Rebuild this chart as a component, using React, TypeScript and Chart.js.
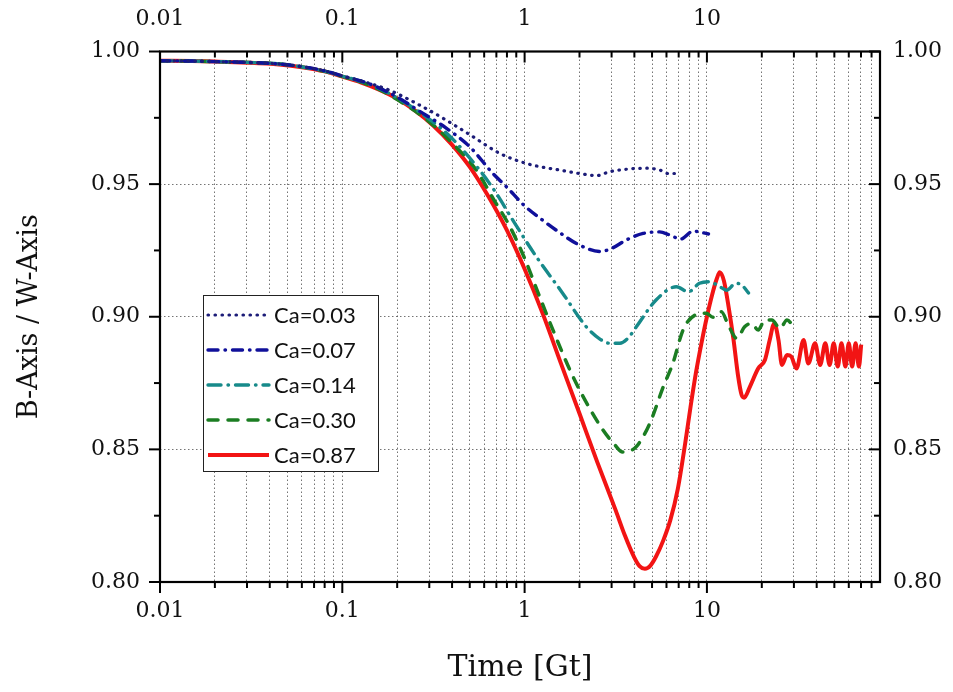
import React, { useEffect, useRef } from "react";
import { Chart, registerables } from "chart.js";

Chart.register(...registerables);

// ---------- data ----------
const seriesLabels = ["Ca=0.03", "Ca=0.07", "Ca=0.14", "Ca=0.30", "Ca=0.87"];

const t003 = [0.01, 0.015, 0.02, 0.03, 0.045, 0.06, 0.08, 0.1, 0.141, 0.18, 0.254, 0.37, 0.52, 0.73, 1.02, 1.21, 1.56, 2.0, 2.48, 2.93, 3.6, 4.66, 5.52, 6.13, 6.7];
const v003 = [0.9965, 0.9964, 0.9962, 0.9959, 0.9953, 0.9943, 0.9927, 0.9908, 0.988, 0.9855, 0.9805, 0.9742, 0.9679, 0.9616, 0.9578, 0.9566, 0.9553, 0.954, 0.9532, 0.9547, 0.9556, 0.956, 0.9553, 0.954, 0.954];

const t007 = [0.01, 0.015, 0.02, 0.03, 0.045, 0.06, 0.08, 0.1, 0.14, 0.2, 0.265, 0.37, 0.5, 0.67, 0.8, 1.0, 1.25, 1.5, 2.0, 2.6, 3.05, 3.6, 4.47, 5.5, 6.26, 7.2, 8.4, 9.3, 10.2];
const v007 = [0.9965, 0.9964, 0.9962, 0.9959, 0.9953, 0.9943, 0.9927, 0.9908, 0.9879, 0.9828, 0.9775, 0.9712, 0.9641, 0.954, 0.9488, 0.9418, 0.9365, 0.9325, 0.927, 0.9246, 0.926, 0.9289, 0.9314, 0.932, 0.9308, 0.9293, 0.9323, 0.9318, 0.9312];

const t014 = [0.01, 0.015, 0.02, 0.03, 0.045, 0.06, 0.08, 0.1, 0.14, 0.2, 0.3, 0.4, 0.566, 0.7, 0.86, 1.16, 1.62, 2.18, 2.6, 2.93, 3.33, 3.7, 4.1, 5.26, 6.8, 7.9, 9.1, 10.3, 11.8, 12.8, 14.4, 15.5, 16.9];
const v014 = [0.9965, 0.9964, 0.9962, 0.9959, 0.9953, 0.9942, 0.9926, 0.9907, 0.9877, 0.9825, 0.9745, 0.9672, 0.9553, 0.9465, 0.9365, 0.9226, 0.9088, 0.8962, 0.8915, 0.89, 0.89, 0.892, 0.8962, 0.9063, 0.9113, 0.9094, 0.9126, 0.9132, 0.9113, 0.91, 0.9126, 0.912, 0.909];

const t030 = [0.01, 0.015, 0.02, 0.03, 0.045, 0.06, 0.08, 0.1, 0.14, 0.2, 0.3, 0.4, 0.543, 0.68, 0.83, 1.0, 1.21, 1.45, 1.77, 2.09, 2.69, 3.1, 3.45, 3.8, 4.1, 4.86, 5.76, 6.5, 7.4, 8.6, 9.9, 10.8, 12.0, 13.1, 14.6, 16.1, 17.6, 19.1, 20.8, 22.7, 25.2, 27.5, 30.5];
const v030 = [0.9965, 0.9964, 0.9962, 0.9959, 0.9953, 0.9942, 0.9925, 0.9906, 0.9874, 0.9819, 0.9735, 0.9655, 0.9553, 0.944, 0.934, 0.922, 0.9075, 0.894, 0.88, 0.87, 0.8573, 0.852, 0.849, 0.8495, 0.851, 0.8598, 0.8736, 0.8824, 0.895, 0.9006, 0.9013, 0.8998, 0.9019, 0.8969, 0.8918, 0.8962, 0.8975, 0.895, 0.8988, 0.8988, 0.8956, 0.8988, 0.895];

const t087 = [0.01, 0.015, 0.02, 0.03, 0.045, 0.06, 0.08, 0.1, 0.126, 0.158, 0.2, 0.251, 0.316, 0.398, 0.5, 0.631, 0.794, 1.0, 1.26, 1.58, 2.0, 2.51, 3.16, 3.55, 3.98, 4.27, 4.57, 4.9, 5.25, 5.75, 6.31, 6.92, 7.59, 8.13, 8.71, 9.33, 10.0, 10.7, 11.35, 11.75, 12.4, 13.2, 14.0, 14.8, 15.5, 16.0, 17.2, 19.1, 20.8, 22.1, 23.4, 24.7, 25.8, 27.5, 29.0, 31.0, 33.9, 36.0, 39.2, 41.8, 44.6, 47.1, 49.6, 52.2, 54.7, 57.5, 60.0, 62.6, 65.4, 68.2, 70.2];
const v087 = [0.9965, 0.9964, 0.9962, 0.9958, 0.9951, 0.9941, 0.9925, 0.9905, 0.9884, 0.9857, 0.9822, 0.9777, 0.972, 0.965, 0.9565, 0.9455, 0.933, 0.918, 0.901, 0.8825, 0.8635, 0.845, 0.827, 0.8175, 0.8095, 0.806, 0.805, 0.8062, 0.8095, 0.8155, 0.8235, 0.835, 0.852, 0.866, 0.879, 0.89, 0.9, 0.9085, 0.9145, 0.9168, 0.9135, 0.903, 0.8912, 0.878, 0.8705, 0.8695, 0.8736, 0.8805, 0.8837, 0.8912, 0.8975, 0.8912, 0.8818, 0.8856, 0.885, 0.8805, 0.8912, 0.8824, 0.89, 0.8818, 0.89, 0.8818, 0.89, 0.8812, 0.89, 0.8812, 0.89, 0.8812, 0.89, 0.8812, 0.8895];

const xTickValues = [
  0.01, 0.02, 0.03, 0.04, 0.05, 0.06, 0.07, 0.08, 0.09,
  0.1, 0.2, 0.3, 0.4, 0.5, 0.6, 0.7, 0.8, 0.9,
  1, 2, 3, 4, 5, 6, 7, 8, 9,
  10, 20, 30, 40, 50, 60, 70, 80,
];
const xMajorLabels = ["0.01", "0.1", "1", "10"];
const yTickValues = [0.8, 0.825, 0.85, 0.875, 0.9, 0.925, 0.95, 0.975, 1.0];
const yMajorLabels = ["0.80", "0.85", "0.90", "0.95", "1.00"];

const X_MIN = 0.01;
const X_MAX = 89;
const Y_MIN = 0.8;
const Y_MAX = 1.0;

// ---------- styles ----------
const seriesStyles = [
  { color: "#1c1c78", dash: [0.5, 6.5], width: 3.2, cap: "round" },
  { color: "#10109a", dash: [10, 7, 0.5, 7], width: 3.4, cap: "round" },
  { color: "#178a8a", dash: [13, 7, 0.5, 7], width: 3.4, cap: "round" },
  { color: "#1b7d22", dash: [10, 10], width: 3.5, cap: "round" },
  { color: "#f21414", dash: [], width: 4, cap: "butt" },
];

const seriesT = [t003, t007, t014, t030, t087];
const seriesV = [v003, v007, v014, v030, v087];

const SERIF = "'DejaVu Serif', serif";

function xLabelFor(value: number): string {
  const l = xMajorLabels.find((s) => Math.abs(parseFloat(s) - value) < 1e-9);
  return l || "";
}
function yLabelFor(value: number): string {
  const l = yMajorLabels.find((s) => Math.abs(parseFloat(s) - value) < 1e-9);
  return l || "";
}

const framePlugin = {
  id: "frameTicksLegend",
  afterDraw(chart: any) {
    const { ctx, chartArea: a, scales } = chart;
    ctx.save();
    ctx.setLineDash([]);
    ctx.strokeStyle = "#000";
    ctx.lineWidth = 2.2;
    ctx.strokeRect(a.left, a.top, a.right - a.left, a.bottom - a.top);

    ctx.lineWidth = 2;
    const MAJ = 11;
    const MIN = 6;
    for (const tk of scales.x.ticks) {
      const p = scales.x.getPixelForValue(tk.value);
      const len = xLabelFor(tk.value) ? MAJ : MIN;
      ctx.beginPath();
      ctx.moveTo(p, a.bottom);
      ctx.lineTo(p, a.bottom + len);
      ctx.stroke();
    }
    for (const tk of scales.x2.ticks) {
      const p = scales.x2.getPixelForValue(tk.value);
      const len = xLabelFor(tk.value) ? MAJ : MIN;
      ctx.beginPath();
      ctx.moveTo(p, a.top);
      ctx.lineTo(p, a.top + len);
      ctx.stroke();
    }
    for (const tk of scales.y.ticks) {
      const p = scales.y.getPixelForValue(tk.value);
      const len = yLabelFor(tk.value) ? MAJ : MIN;
      ctx.beginPath();
      ctx.moveTo(a.left - len, p);
      ctx.lineTo(a.left, p);
      ctx.stroke();
    }
    for (const tk of scales.y2.ticks) {
      const p = scales.y2.getPixelForValue(tk.value);
      const len = yLabelFor(tk.value) ? MAJ : MIN;
      ctx.beginPath();
      ctx.moveTo(a.right - len, p);
      ctx.lineTo(a.right, p);
      ctx.stroke();
    }

    // legend box
    const bx = 203, by = 295, bw = 175, bh = 176;
    ctx.fillStyle = "#fff";
    ctx.fillRect(bx, by, bw, bh);
    ctx.strokeStyle = "#222";
    ctx.lineWidth = 1;
    ctx.strokeRect(bx + 0.5, by + 0.5, bw, bh);
    const rowH = 35;
    chart.data.datasets.forEach((ds: any, i: number) => {
      const y = by + 20 + i * rowH;
      ctx.save();
      ctx.strokeStyle = ds.borderColor;
      ctx.lineWidth = ds.borderWidth;
      ctx.lineCap = ds.borderCapStyle;
      ctx.setLineDash(ds.borderDash || []);
      ctx.beginPath();
      ctx.moveTo(bx + 5, y);
      ctx.lineTo(bx + 66, y);
      ctx.stroke();
      ctx.restore();
      ctx.fillStyle = "#111";
      ctx.font = "22px Lato, 'Open Sans', sans-serif";
      ctx.textBaseline = "middle";
      ctx.textAlign = "left";
      ctx.fillText(ds.label, bx + 71, y + 1);
    });
    ctx.restore();
  },
};

function makeXScale(position: "bottom" | "top", showGrid: boolean, padding: number, title: any) {
  return {
    type: "logarithmic",
    position,
    min: X_MIN,
    max: X_MAX,
    afterBuildTicks: (scale: any) => {
      scale.ticks = xTickValues.map((v) => ({ value: v, major: !!xLabelFor(v) }));
    },
    afterFit: (scale: any) => {
      scale.height = position === "bottom" ? 110 : 51.5;
    },
    ticks: {
      autoSkip: false,
      maxRotation: 0,
      minRotation: 0,
      padding,
      color: "#111",
      font: { family: SERIF, size: 22 },
      callback: (value: any) => xLabelFor(Number(value)),
    },
    grid: {
      display: true,
      drawOnChartArea: showGrid,
      drawTicks: false,
      color: (c: any) => {
        const v = c.tick ? c.tick.value : 0;
        if (Math.abs(v - X_MIN) < 1e-9) return "rgba(0,0,0,0)";
        return "rgba(70,70,70,0.75)";
      },
      lineWidth: 1,
    },
    border: { display: false, dash: [1.5, 2.5] },
    title,
  };
}

function makeYScale(position: "left" | "right", showGrid: boolean, padding: number, title: any) {
  return {
    type: "linear",
    position,
    min: Y_MIN,
    max: Y_MAX,
    afterBuildTicks: (scale: any) => {
      scale.ticks = yTickValues.map((v) => ({ value: v }));
    },
    afterFit: (scale: any) => {
      scale.width = position === "left" ? 160 : 73;
    },
    ticks: {
      autoSkip: false,
      padding,
      color: "#111",
      font: { family: SERIF, size: 22 },
      callback: (value: any) => yLabelFor(Number(value)),
    },
    grid: {
      display: true,
      drawOnChartArea: showGrid,
      drawTicks: false,
      color: (c: any) => {
        const v = c.tick ? c.tick.value : 0;
        const lab = yLabelFor(v);
        if (!lab || lab === "0.80" || lab === "1.00") return "rgba(0,0,0,0)";
        return "rgba(70,70,70,0.75)";
      },
      lineWidth: 1,
    },
    border: { display: false, dash: [1.5, 2.5] },
    title,
  };
}

export default function App() {
  const canvasRef = useRef<HTMLCanvasElement | null>(null);

  useEffect(() => {
    const canvas = canvasRef.current;
    if (!canvas) return;
    const datasets = seriesLabels.map((label, i) => ({
      label,
      data: seriesT[i].map((t, j) => ({ x: t, y: seriesV[i][j] })),
      borderColor: seriesStyles[i].color,
      backgroundColor: seriesStyles[i].color,
      borderWidth: seriesStyles[i].width,
      borderDash: seriesStyles[i].dash,
      borderCapStyle: seriesStyles[i].cap,
      borderJoinStyle: "round",
      pointRadius: 0,
      cubicInterpolationMode: "monotone",
      fill: false,
      xAxisID: "x",
      yAxisID: "y",
    }));

    const chart = new Chart(canvas, {
      type: "line",
      data: { datasets } as any,
      options: {
        responsive: false,
        animation: false,
        events: [],
        layout: { padding: 0 },
        plugins: {
          legend: { display: false },
          tooltip: { enabled: false },
        },
        scales: {
          x: makeXScale("bottom", true, 16, {
            display: true,
            text: "Time [Gt]",
            color: "#111",
            font: { family: SERIF, size: 30 },
            padding: { top: 0, bottom: 6 },
          }),
          x2: makeXScale("top", false, 19, { display: false }),
          y: makeYScale("left", true, 20, {
            display: true,
            text: "B-Axis / W-Axis",
            color: "#111",
            font: { family: SERIF, size: 27 },
            padding: { top: 14, bottom: 0 },
          }),
          y2: makeYScale("right", false, 13, { display: false }),
        },
      } as any,
      plugins: [framePlugin as any],
    });
    return () => chart.destroy();
  }, []);

  return (
    <div style={{ position: "absolute", left: 0, top: 0, width: 953, height: 692, background: "#fff" }}>
      <canvas ref={canvasRef} width={953} height={692} style={{ display: "block" }} />
    </div>
  );
}
